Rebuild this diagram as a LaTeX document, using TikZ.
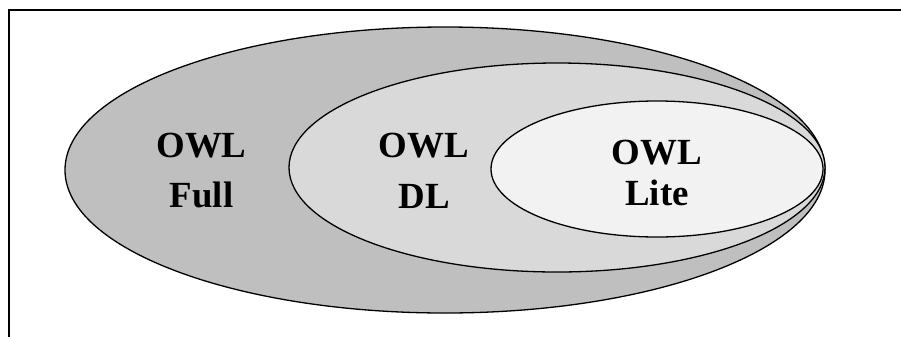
\documentclass[tikz,border=0pt]{standalone}
\usepackage{fontspec}
\setmainfont{Liberation Serif}
\usepackage{tikz}

\definecolor{fullgray}{gray}{0.75}
\definecolor{dlgray}{gray}{0.85}
\definecolor{litegray}{gray}{0.95}

\tikzset{
    species/.style={draw=black, line width=1.3bp},
    owl/.style={anchor=base, inner sep=0pt, font=\fontsize{37}{50}\selectfont\bfseries}
}

\begin{document}
\begin{tikzpicture}[x=1bp, y=-1bp]
        \clip (0,0) rectangle (901,336);
        \draw[line width=2.5bp] (9,10) rectangle (930,360);
        % nested sublanguages, outermost first
        \filldraw[species, fill=fullgray] (445,170) ellipse [x radius=380, y radius=143];
        \filldraw[species, fill=dlgray]   (557,167.5) ellipse [x radius=268, y radius=104.5];
        \filldraw[species, fill=litegray] (657,169) ellipse [x radius=166, y radius=68];
        \node[owl] (fullA) at (201.5,157) {OWL};
        \node[owl] (fullB) at (201.5,207) {Full};
        \node[owl] (dlA)   at (424,157)   {OWL};
        \node[owl] (dlB)   at (424,208)   {DL};
        \node[owl] (liteA) at (657,164)   {OWL};
        \node[owl] (liteB) at (657,205)   {Lite};
    \end{tikzpicture}
\end{document}
